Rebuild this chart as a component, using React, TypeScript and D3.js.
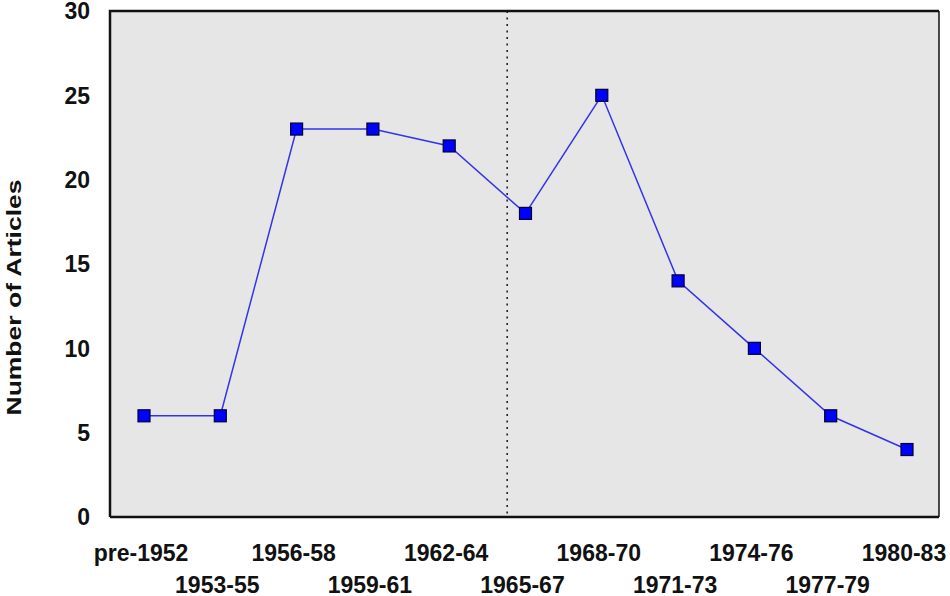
import { useEffect, useRef } from 'react';
import * as d3 from 'd3';

const categories = ['pre-1952', '1953-55', '1956-58', '1959-61', '1962-64', '1965-67', '1968-70', '1971-73', '1974-76', '1977-79', '1980-83'];
const articles = [6, 6, 23, 23, 22, 18, 25, 14, 10, 6, 4];
const yTicks = [0, 5, 10, 15, 20, 25, 30];
// the dotted divider sits partway between 1962-64 and 1965-67
const dividerAfter = '1962-64';
const dividerFraction = 0.76;

const App = () => {
    const svgRef = useRef<SVGSVGElement | null>(null);

    useEffect(() => {
        if (!svgRef.current) return;
        const svg = d3.select(svgRef.current);
        svg.selectAll('*').remove();

        const box = { left: 110, right: 939, top: 11, bottom: 517 };
        const font = '"Liberation Sans", Arial, sans-serif';
        const ink = '#111';

        const x = d3.scalePoint<string>()
            .domain(categories)
            .range([144, 907]);

        const y = d3.scaleLinear()
            .domain([0, 30])
            .range([box.bottom, box.top]);

        // plot background
        svg.append('rect')
            .attr('x', box.left)
            .attr('y', box.top)
            .attr('width', box.right - box.left)
            .attr('height', box.bottom - box.top)
            .attr('fill', '#e6e6e6');

        // dotted divider
        const dx = (x(dividerAfter) as number) + dividerFraction * x.step();
        svg.append('line')
            .attr('x1', dx).attr('x2', dx)
            .attr('y1', box.top).attr('y2', box.bottom)
            .attr('stroke', '#222')
            .attr('stroke-width', 1.6)
            .attr('stroke-dasharray', '2,4.5');

        // border
        const border = svg.append('g').attr('stroke', ink).attr('fill', 'none');
        border.append('path')
            .attr('d', `M${box.right},${box.top}V${box.bottom}`)
            .attr('stroke-width', 1.5);
        border.append('path')
            .attr('d', `M${box.left},${box.bottom}V${box.top}H${box.right}`)
            .attr('stroke-width', 2.5);
        border.append('path')
            .attr('d', `M${box.left},${box.bottom}H${box.right}`)
            .attr('stroke-width', 2.5);

        // y tick labels
        svg.append('g')
            .selectAll('text')
            .data(yTicks)
            .join('text')
            .attr('x', 90)
            .attr('y', d => y(d))
            .attr('dy', '0.36em')
            .attr('text-anchor', 'end')
            .attr('font-family', font)
            .attr('font-weight', 'bold')
            .attr('font-size', 23)
            .attr('fill', ink)
            .text(d => d);

        // y axis title
        svg.append('text')
            .attr('transform', `translate(21,${(180 + 415) / 2}) rotate(-90)`)
            .attr('text-anchor', 'middle')
            .attr('font-family', font)
            .attr('font-weight', 'bold')
            .attr('font-size', 21)
            .attr('textLength', 236)
            .attr('lengthAdjust', 'spacingAndGlyphs')
            .attr('fill', ink)
            .text('Number of Articles');

        // x labels, alternating rows
        svg.append('g')
            .selectAll('text')
            .data(categories)
            .join('text')
            .attr('x', d => (x(d) as number) - 3)
            .attr('y', (d, i) => (i % 2 === 0 ? 561 : 593))
            .attr('text-anchor', 'middle')
            .attr('font-family', font)
            .attr('font-weight', 'bold')
            .attr('font-size', 23)
            .attr('fill', ink)
            .text(d => d);

        // line
        const line = d3.line<number>()
            .x((d, i) => x(categories[i]) as number)
            .y(d => y(d));

        svg.append('path')
            .datum(articles)
            .attr('d', line)
            .attr('fill', 'none')
            .attr('stroke', '#3333ee')
            .attr('stroke-width', 1.5);

        // markers
        const s = 12;
        svg.append('g')
            .selectAll('rect')
            .data(articles)
            .join('rect')
            .attr('x', (d, i) => (x(categories[i]) as number) - s / 2)
            .attr('y', d => y(d) - s / 2)
            .attr('width', s)
            .attr('height', s)
            .attr('fill', '#0000ff')
            .attr('stroke', '#000033')
            .attr('stroke-width', 1.2);
    }, []);

    return (
        <svg
            ref={svgRef}
            width={950}
            height={596}
            style={{ position: 'absolute', left: 0, top: 0, background: '#fff' }}
        />
    );
};

export default App;
